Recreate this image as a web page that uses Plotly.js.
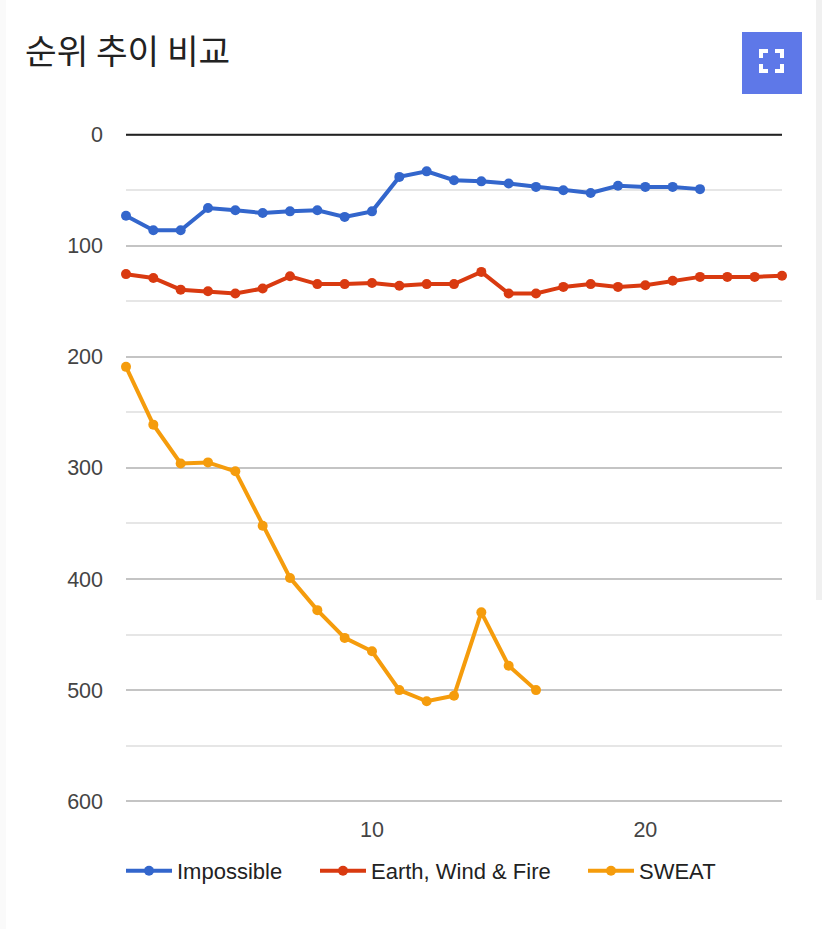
<!DOCTYPE html>
<html><head><meta charset="utf-8">
<script src="https://cdn.plot.ly/plotly-3.0.1.min.js"></script>
<style>html,body{margin:0;padding:0;background:#fff}#c{width:828px;height:929px}</style>
</head><body><div id="c"></div>
<script>
const impossible=[73,86,86,66,68,70.5,69,68,74,69,38,33,41,42,44,47,50,52.5,46,47,47,49];
const earth=[125.5,129,139.5,141,143,138.5,127.5,134.5,134.5,133.5,136,134.5,134.5,123.5,143,143,137,134.5,137,135.5,131.5,128,128,128,127];
const sweat=[209,261,296,295,303,352,399,428,453,465,500,510,505,430,478,500];
const names=['Impossible','Earth, Wind & Fire','SWEAT'];
const colors=['#3366cc','#d93a10','#f59c0c'];
const legendIds=['legend','legend2','legend3'];
const xs=a=>a.map((_,i)=>i+1);
const series=[impossible,earth,sweat];
const W=828,H=929;
const data=series.map((s,i)=>({x:xs(s),y:s,name:names[i],type:'scatter',mode:'lines+markers',cliponaxis:false,legend:legendIds[i],
 line:{color:colors[i],width:4},marker:{color:colors[i],size:10}}));
const lg=x=>({orientation:'h',x:x/W,xanchor:'left',y:1-871/H,yanchor:'middle',bgcolor:'rgba(0,0,0,0)',font:{family:'"Liberation Sans"',size:22,color:'#222'},itemwidth:46,itemclick:false});
const px=(x0,y0,x1,y1,fill)=>({type:'rect',xref:'paper',yref:'paper',x0:x0/W,x1:x1/W,y0:1-y0/H,y1:1-y1/H,fillcolor:fill,line:{width:0},layer:'below'});
const seg=(x0,y0,x1,y1)=>({type:'line',xref:'paper',yref:'paper',x0:x0/W,x1:x1/W,y0:1-y0/H,y1:1-y1/H,line:{color:'#fff',width:4}});
const unit=(801.2-134.7)/600, pad=2;
Plotly.newPlot('c',data,{
 width:W,height:H,margin:{l:0,r:0,t:0,b:0},paper_bgcolor:'#fff',plot_bgcolor:'rgba(0,0,0,0)',
 font:{family:'"Liberation Sans"',size:21.5,color:'#444'},
 title:{text:'순위 추이 비교',x:25/W,xanchor:'left',y:1-52/H,yanchor:'middle',font:{family:'"Noto Sans CJK KR"',size:34.4,color:'#222'}},
 showlegend:true,
 legend:lg(121),legend2:lg(315),legend3:lg(583),
 xaxis:{domain:[126/W,782/W],range:[1,25],tickvals:[10,20],showgrid:false,zeroline:false,ticks:'',showline:false,ticklabelstandoff:11,tickfont:{size:21.5,color:'#444'},automargin:false,anchor:'y'},
 yaxis:{domain:[1-(801.2+pad*unit)/H,1-(134.7-pad*unit)/H],range:[600+pad,-pad],tickvals:[0,100,200,300,400,500,600],
  minor:{tickvals:[50,150,250,350,450,550],showgrid:true,gridcolor:'#e6e6e6',gridwidth:1.5},
  gridcolor:'#c4c4c4',gridwidth:1.5,zeroline:false,ticks:'',ticklabelstandoff:22,tickfont:{size:21.5,color:'#444'},automargin:false},
 shapes:[
  {type:'line',xref:'x',yref:'y',x0:1,x1:25,y0:0,y1:0,line:{color:'#222',width:2},layer:'above'},
  px(0,0,6,929,'#fafafa'),px(816,0,822,600,'#f0f0f0'),
  px(742,32,802,94,'#5e78e8'),
  seg(759,51,768,51),seg(761,49,761,58),seg(775,51,784,51),seg(782,49,782,58),
  seg(759,71,768,71),seg(761,64,761,73),seg(775,71,784,71),seg(782,64,782,73)
 ]
},{displayModeBar:false,responsive:false});
</script></body></html>
